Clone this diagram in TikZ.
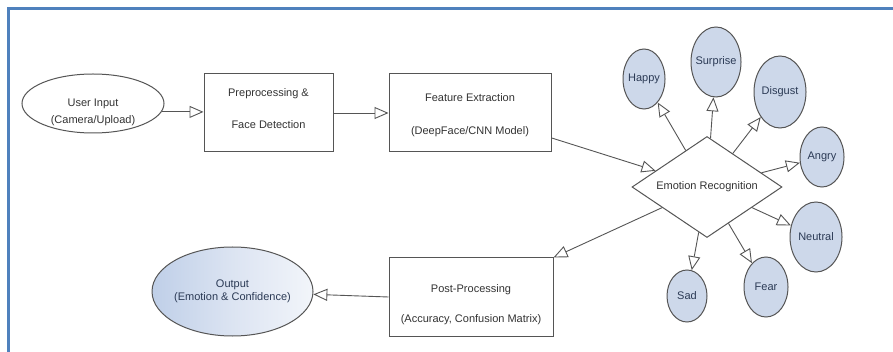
\documentclass[tikz,border=0pt]{standalone}
\usepackage{fontspec}
\setmainfont{Liberation Sans}
\usetikzlibrary{shapes.geometric,arrows.meta}
\definecolor{frameblue}{HTML}{4F81BD}
\definecolor{linegray}{HTML}{555555}
\definecolor{txtgray}{HTML}{333333}
\definecolor{emofill}{HTML}{CDD8EA}
\definecolor{emotxt}{HTML}{2B3A55}
\definecolor{outleft}{HTML}{BFCFE8}
\definecolor{outmid}{HTML}{DCE4F2}
\definecolor{outright}{HTML}{F2F5FA}
\begin{document}
\begin{tikzpicture}[x=1pt,y=-1pt,
  every node/.style={font=\fontsize{11}{13}\selectfont},
  lab/.style={text=txtgray, align=center, inner sep=0pt},
  elab/.style={text=emotxt, align=center, inner sep=0pt},
  boxnode/.style={draw=linegray, line width=1pt, rectangle, inner sep=0pt},
  ellnode/.style={draw=linegray, line width=1pt, ellipse, inner sep=0pt},
  emonode/.style={draw=linegray, line width=1pt, ellipse, inner sep=0pt, fill=emofill},
  arr/.style={draw=linegray, line width=0.9pt, -{Triangle[open, length=14pt, width=12pt]}}
]
\useasboundingbox (0,0) rectangle (893,352);
\fill[white] (0,0) rectangle (893,352);
% frame (only top and left sides are visible)
\coordinate (fc) at (8.5,8.5);
\coordinate (ftr) at (893,8.5);
\coordinate (fbl) at (8.5,352);
\draw[frameblue, line width=2.5pt] (fbl) -- (fc) -- (ftr);

% main flow
\node[ellnode, minimum width=142pt, minimum height=59pt,
  label={[lab, yshift=-9pt]center:User Input\\[4pt](Camera/Upload)}] (inp) at (93,103.5) {};
\node[boxnode, minimum width=129pt, minimum height=78pt,
  label={[lab, yshift=4pt]center:Preprocessing \&\\[19pt]Face Detection}] (pre) at (268.5,113) {};
\node[boxnode, minimum width=162pt, minimum height=78pt,
  label={[lab, yshift=-2pt]center:Feature Extraction\\[20pt](DeepFace/CNN Model)}] (feat) at (470,113) {};
\node[diamond, draw=linegray, line width=1pt, inner sep=0pt, aspect=1.5,
  minimum width=150pt, minimum height=101pt, text=txtgray] (emo) at (707,187) {Emotion Recognition};
\node[boxnode, minimum width=164pt, minimum height=78pt,
  label={[lab, yshift=-8pt]center:Post-Processing\\[17pt](Accuracy, Confusion Matrix)}] (post) at (471,297) {};
\node[ellnode, minimum width=161pt, minimum height=89pt,
  left color=outleft, right color=outright, middle color=outmid,
  label={[lab, text=emotxt]center:Output\\(Emotion \& Confidence)}] (out) at (232.5,291.5) {};

% emotions
\node[emonode, minimum width=42pt, minimum height=60pt, label={[elab]center:Happy}] (happy) at (644,79) {};
\node[emonode, minimum width=50pt, minimum height=70pt, label={[elab]center:Surprise}] (surprise) at (716,62) {};
\node[emonode, minimum width=52pt, minimum height=72pt, label={[elab]center:Disgust}] (disgust) at (780,92) {};
\node[emonode, minimum width=44pt, minimum height=60pt, label={[elab]center:Angry}] (angry) at (822,157) {};
\node[emonode, minimum width=52pt, minimum height=70pt, label={[elab]center:Neutral}] (neutral) at (816,237) {};
\node[emonode, minimum width=44pt, minimum height=60pt, label={[elab]center:Fear}] (fear) at (766,287) {};
\node[emonode, minimum width=40pt, minimum height=52pt, label={[elab]center:Sad}] (sad) at (687,296) {};

% connectors
\draw[arr] (inp.-7) -- (inp.-7 -| pre.west);
\draw[arr] (pre.east) -- (feat.west);
\draw[arr] (feat.-17) -- (emo);
\draw[arr] (emo) -- (happy);
\draw[arr] (emo) -- (surprise);
\draw[arr] (emo) -- (disgust);
\draw[arr] (emo) -- (angry);
\draw[arr] (emo) -- (neutral);
\draw[arr] (emo) -- (fear);
\draw[arr] (emo) -- (sad);
\draw[arr] (emo) -- (post.north east);
\draw[arr] (post.west) -- (out);
\end{tikzpicture}
\end{document}
